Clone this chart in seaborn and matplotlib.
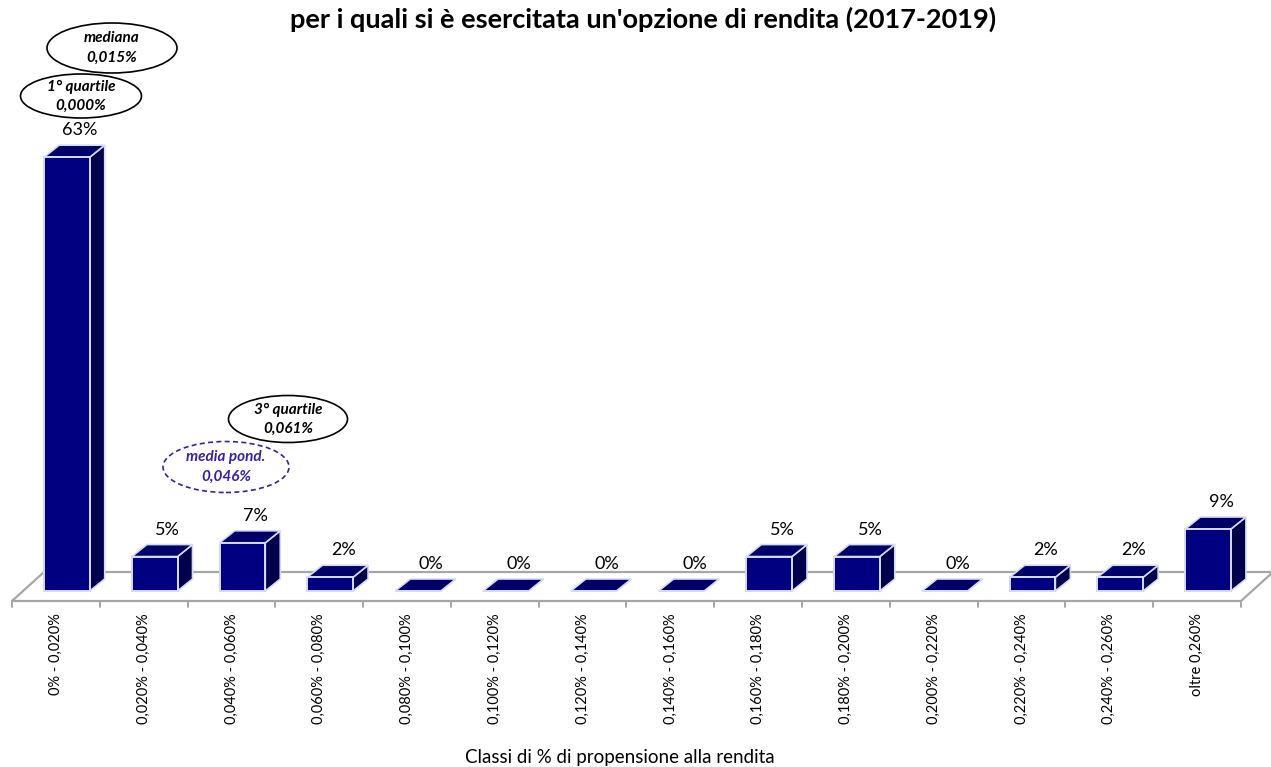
import numpy as np
import pandas as pd
import matplotlib
matplotlib.use("Agg")
import matplotlib.pyplot as plt
import matplotlib.transforms as mtransforms
from matplotlib.patches import Polygon, Ellipse
import seaborn as sns

# ---- data -------------------------------------------------------------
categories = [
    "0% - 0,020%", "0,020% - 0,040%", "0,040% - 0,060%", "0,060% - 0,080%",
    "0,080% - 0,100%", "0,100% - 0,120%", "0,120% - 0,140%", "0,140% - 0,160%",
    "0,160% - 0,180%", "0,180% - 0,200%", "0,200% - 0,220%", "0,220% - 0,240%",
    "0,240% - 0,260%", "oltre 0,260%",
]
shares = [63, 5, 7, 2, 0, 0, 0, 0, 5, 5, 0, 2, 2, 9]
value_labels = [f"{v}%" for v in shares]

stat_names = ["mediana", "1° quartile", "3° quartile", "media pond."]
stat_values = ["0,015%", "0,000%", "0,061%", "0,046%"]

title_text = "per i quali si è esercitata un'opzione di rendita (2017-2019)"
xlabel_text = "Classi di % di propensione alla rendita"

# ---- style ------------------------------------------------------------
W, H = 1271, 767
sns.set_style("white")
plt.rcParams["font.family"] = ["Lato", "DejaVu Sans"]

FRONT = "#000080"
TOP = "#000068"
SIDE = "#00004C"
GLOW = "#D5DBF3"
FLOOR = "#A6A6A6"
INDIGO = "#3B1FA3"

DEPTH = np.array([15.0, 12.0])        # bar depth, pixels
FLOOR_FRONT = np.array([-11.0, -10.0])
FLOOR_BACK = np.array([21.0, 19.0])

df = pd.DataFrame({"classe": categories, "quota": shares})

fig = plt.figure(figsize=(W / 100, H / 100), dpi=100)
ax = fig.add_axes([23 / W, 176 / H, 1229 / W, 482 / H])

sns.barplot(data=df, x="classe", y="quota", color=FRONT, saturation=1,
            width=0.52, edgecolor=GLOW, linewidth=1.4, ax=ax, zorder=3)
ax.set_xlim(-0.5, len(categories) - 0.5)
ax.set_ylim(0, 70)
ax.set_axis_off()

to_disp = ax.transData.transform
to_data = ax.transData.inverted().transform

# ---- floor of the 3D box ---------------------------------------------
left, right = -0.5, len(categories) - 0.5
base_l = to_disp((left, 0))
base_r = to_disp((right, 0))
floor_pts = np.array([base_l + FLOOR_FRONT, base_r + FLOOR_FRONT,
                      base_r + FLOOR_BACK, base_l + FLOOR_BACK,
                      base_l + FLOOR_FRONT])
fd = to_data(floor_pts)
ax.plot(fd[:, 0], fd[:, 1], color=FLOOR, lw=1.6, zorder=1, clip_on=False)

for k in range(len(categories) + 1):
    p = to_disp((left + k, 0)) + FLOOR_FRONT
    seg = to_data(np.array([p, p + np.array([0, -6])]))
    ax.plot(seg[:, 0], seg[:, 1], color=FLOOR, lw=1.4, zorder=1, clip_on=False)

# ---- top and side faces of each bar ------------------------------------
bars = sorted(ax.patches, key=lambda r: r.get_x())
for bar in bars:
    x0, w, h = bar.get_x(), bar.get_width(), bar.get_height()
    a = to_disp((x0, h))
    b = to_disp((x0 + w, h))
    c = to_disp((x0 + w, 0))
    top = to_data(np.array([a, b, b + DEPTH, a + DEPTH]))
    side = to_data(np.array([b, c, c + DEPTH, b + DEPTH]))
    ax.add_patch(Polygon(side, closed=True, facecolor=SIDE, edgecolor=GLOW,
                         lw=1.2, zorder=2.9, clip_on=False))
    ax.add_patch(Polygon(top, closed=True, facecolor=TOP, edgecolor=GLOW,
                         lw=1.2, zorder=2.9, clip_on=False))
    bar.set_clip_on(False)

# ---- value labels -------------------------------------------------------
lab_trans = mtransforms.offset_copy(ax.transData, fig=fig, x=13, y=19, units="dots")
for bar, txt in zip(bars, value_labels):
    ax.text(bar.get_x() + bar.get_width() / 2, bar.get_height(), txt,
            transform=lab_trans, ha="center", va="bottom",
            fontsize=13, color="#000000", zorder=5, clip_on=False)

# ---- category labels ------------------------------------------------------
cat_trans = ax.get_xaxis_transform() + mtransforms.ScaledTranslation(
    -0.11, -0.22, fig.dpi_scale_trans)
for i, name in enumerate(categories):
    ax.text(i, 0, name, transform=cat_trans, rotation=90, ha="center",
            va="top", fontsize=10.5, color="#000000", clip_on=False)

# ---- statistics bubbles ---------------------------------------------------
bubble_layout = [  # centre x, centre y (from top), width, height in pixels
    (112, 48, 130, 50),
    (81, 96, 121, 44),
    (288, 419, 119, 47),
    (226, 467, 126, 51),
]
bubble_colors = ["#000000", "#000000", "#000000", INDIGO]
bubble_styles = ["-", "-", "-", (0, (3, 2))]
for name, val, (cx, cy, bw, bh), col, ls in zip(stat_names, stat_values,
                                                 bubble_layout, bubble_colors,
                                                 bubble_styles):
    fig.add_artist(Ellipse((cx / W, 1 - cy / H), bw / W, bh / H,
                           transform=fig.transFigure, facecolor="white",
                           edgecolor=col, lw=1.2, linestyle=ls, zorder=6))
    fig.text(cx / W, 1 - (cy - 9.5) / H, name, ha="center", va="center",
             fontsize=11, style="italic", weight="bold", color=col, zorder=7)
    fig.text(cx / W, 1 - (cy + 9.5) / H, val, ha="center", va="center",
             fontsize=11, style="italic", weight="bold", color=col, zorder=7)

# ---- titles -------------------------------------------------------------------
fig.text(643 / W, 1 - 19 / H, title_text, ha="center", va="center",
         fontsize=19.5, weight="bold", color="#000000")
fig.text(620 / W, 1 - 757 / H, xlabel_text, ha="center", va="center",
         fontsize=13.5, color="#000000")

fig.savefig("out.png", dpi=100, facecolor="white")
